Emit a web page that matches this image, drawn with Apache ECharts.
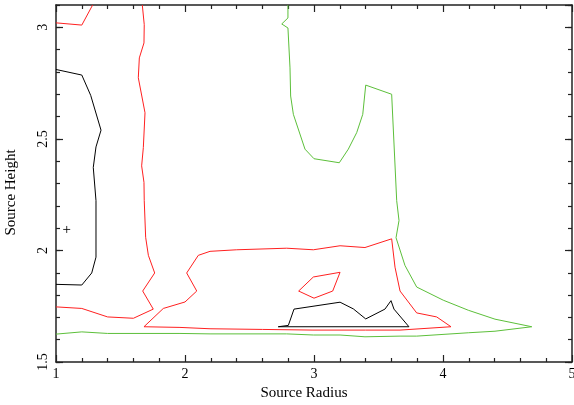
<!DOCTYPE html>
<html>
<head>
<meta charset="utf-8">
<script src="https://cdn.jsdelivr.net/npm/echarts@6/dist/echarts.min.js"></script>
<style>html,body{margin:0;padding:0;background:#fff}#c{width:574px;height:405px}</style>
</head>
<body>
<div id="c"></div>
<script>
// ---- data (Source Radius, Source Height) ----
const xTicks = [1, 2, 3, 4, 5];
const yTicks = [1.5, 2, 2.5, 3];
const blackLeft = [[1.0,2.811],[1.2,2.786],[1.269,2.695],[1.349,2.539],[1.31,2.464],[1.289,2.372],[1.31,2.223],[1.31,1.97],[1.277,1.899],[1.2,1.845],[1.0,1.848]];
const blackLoop = [[2.723,1.658],[2.801,1.664],[2.845,1.737],[3.202,1.768],[3.305,1.738],[3.401,1.693],[3.55,1.737],[3.597,1.775],[3.62,1.737],[3.736,1.658],[2.723,1.658]];
const redTopLeft = [[1.0,3.02],[1.2,3.01],[1.284,3.1]];
const redLeft = [[1.0,1.747],[1.2,1.74],[1.4,1.702],[1.6,1.696],[1.754,1.737],[1.672,1.818],[1.765,1.899],[1.716,1.978],[1.695,2.059],[1.684,2.223],[1.682,2.305],[1.664,2.379],[1.677,2.461],[1.69,2.617],[1.638,2.774],[1.646,2.863],[1.682,2.93],[1.684,3.012],[1.669,3.1]];
const redLoop = [[1.682,1.658],[1.961,1.655],[2.194,1.649],[2.6,1.646],[2.992,1.643],[3.4,1.643],[3.667,1.643],[4.062,1.658],[3.951,1.702],[3.796,1.72],[3.667,1.818],[3.628,1.925],[3.602,2.052],[3.395,2.013],[3.202,2.021],[2.995,2.003],[2.788,2.01],[2.401,2.003],[2.194,1.996],[2.103,1.978],[2.013,1.899],[2.091,1.818],[2.0,1.769],[1.832,1.74],[1.682,1.658]];
const redSmallLoop = [[2.995,1.881],[3.202,1.902],[3.145,1.818],[3.0,1.786],[2.881,1.818],[2.995,1.881]];
const greenContour = [[1.0,1.625],[1.2,1.635],[1.4,1.628],[1.961,1.628],[2.194,1.626],[2.788,1.626],[2.995,1.621],[3.202,1.621],[3.395,1.613],[3.667,1.616],[3.796,1.616],[4.196,1.631],[4.403,1.638],[4.688,1.658],[4.403,1.692],[4.196,1.732],[4.002,1.777],[3.796,1.836],[3.705,1.933],[3.636,2.057],[3.659,2.134],[3.641,2.223],[3.602,2.70],[3.401,2.741],[3.378,2.61],[3.331,2.528],[3.266,2.454],[3.196,2.393],[3.0,2.411],[2.93,2.454],[2.84,2.61],[2.819,2.692],[2.814,2.818],[2.798,2.997],[2.75,3.015],[2.798,3.042],[2.798,3.1]];
const plusMarker = [[1.083,2.094]];

const FONT = '"Liberation Serif","DejaVu Serif",serif';
const AX = '#222';
const X_MIN = 1, X_MAX = 5, Y_MIN = 1.5, Y_MAX = 3.1;

function xAx(pos, labels){
  return {type:'value', position:pos, min:X_MIN, max:X_MAX, interval:1,
    name: labels ? 'Source Radius' : '', nameLocation:'middle', nameGap:22,
    nameTextStyle:{fontFamily:FONT,fontSize:15,color:'#000',padding:[0,20,0,0]},
    axisLine:{show:true,onZero:false,lineStyle:{color:AX,width:1.5}},
    axisTick:{show:true,inside:true,length:7,lineStyle:{color:AX,width:1.2}},
    minorTick:{show:true,splitNumber:5,length:4,lineStyle:{color:AX,width:1.2}},
    axisLabel:{show:labels,margin:5,fontFamily:FONT,fontSize:14,color:'#000'},
    splitLine:{show:false}};
}
function yMajor(pos, labels){
  return {type:'value', position:pos, min:Y_MIN, max:Y_MAX, interval:0.5,
    name: labels ? 'Source Height' : '', nameLocation:'middle', nameGap:37,
    nameTextStyle:{fontFamily:FONT,fontSize:15,color:'#000',padding:[0,18,0,0]},
    axisLine:{show:true,onZero:false,lineStyle:{color:AX,width:1.5}},
    axisTick:{show:true,inside:true,length:7,lineStyle:{color:AX,width:1.2}},
    axisLabel:{show:labels,rotate:90,margin:6,showMaxLabel:false,fontFamily:FONT,fontSize:14,color:'#000',
      formatter:v=>yTicks.indexOf(+v.toFixed(2))>=0 ? String(+v.toFixed(2)) : ''},
    splitLine:{show:false}};
}
function yMinor(pos){
  return {type:'value', position:pos, min:Y_MIN, max:Y_MAX, interval:0.1,
    axisLine:{show:false,onZero:false},
    axisTick:{show:true,inside:true,length:4,lineStyle:{color:AX,width:1.2}},
    axisLabel:{show:false}, splitLine:{show:false}};
}

const lineS = (data,color)=>({type:'line',data,xAxisIndex:0,yAxisIndex:0,symbol:'none',
  lineStyle:{color,width:1},silent:true,animation:false,z:3});

const chart = echarts.init(document.getElementById('c'), null, {renderer:'canvas'});
chart.setOption({
  backgroundColor:'#fff',
  animation:false,
  grid:{left:56,right:2,top:5,bottom:43,containLabel:false,outerBoundsMode:'none'},
  xAxis:[xAx('bottom',true), xAx('top',false)],
  yAxis:[yMajor('left',true), yMajor('right',false), yMinor('left'), yMinor('right')],
  series:[
    lineS(greenContour,'#5cbf3a'),
    lineS(redLeft,'#ff2020'),
    lineS(redTopLeft,'#ff2020'),
    lineS(redLoop,'#ff2020'),
    lineS(redSmallLoop,'#ff2020'),
    lineS(blackLeft,'#000'),
    lineS(blackLoop,'#000'),
    {type:'scatter',data:plusMarker,xAxisIndex:0,yAxisIndex:0,symbol:'path://M0,4L8,4M4,0L4,8',symbolSize:7,
     itemStyle:{color:'none',borderColor:'#000',borderWidth:1},silent:true}
  ]
});
</script>
</body>
</html>
